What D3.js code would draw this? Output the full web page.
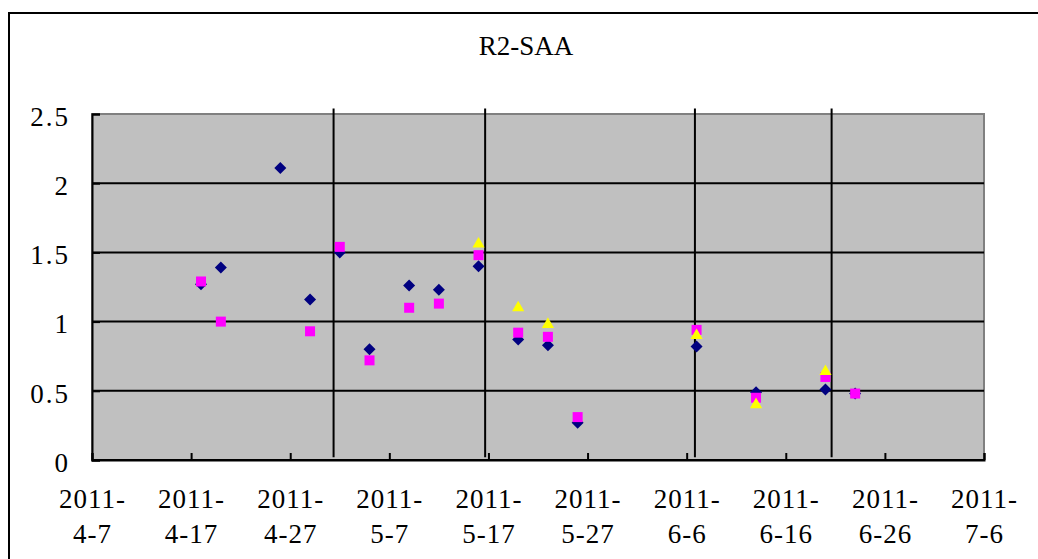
<!DOCTYPE html>
<html>
<head>
<meta charset="utf-8">
<script src="https://cdn.jsdelivr.net/npm/d3@7"></script>
<style>
  body { margin: 0; background: #fff; }
  text { font-family: "Liberation Serif", "DejaVu Serif", "Times New Roman", serif; fill: #000; }
</style>
</head>
<body>
<script>
//chart data
var parseDay = d3.timeParse("%Y-%m-%d");
var parseHour = d3.timeParse("%Y-%m-%d %H");

//series 1 (navy diamonds)
var datesA = ["2011-04-18", "2011-04-20", "2011-04-26", "2011-04-29", "2011-05-02", "2011-05-05", "2011-05-09", "2011-05-12",
              "2011-05-16", "2011-05-20", "2011-05-23", "2011-05-26", "2011-06-07", "2011-06-13", "2011-06-20", "2011-06-23"];
var valuesA = [1.27, 1.39, 2.11, 1.16, 1.50, 0.80, 1.26, 1.23, 1.40, 0.87, 0.83, 0.27, 0.82, 0.49, 0.51, 0.48];

//series 2 (magenta squares)
var datesB = ["2011-04-18", "2011-04-20", "2011-04-29", "2011-05-02", "2011-05-05", "2011-05-09", "2011-05-12", "2011-05-16",
              "2011-05-20", "2011-05-23", "2011-05-26", "2011-06-07", "2011-06-13", "2011-06-20", "2011-06-23"];
var valuesB = [1.29, 1.00, 0.93, 1.54, 0.72, 1.10, 1.13, 1.48, 0.92, 0.89, 0.31, 0.94, 0.45, 0.60, 0.48];

//series 3 (yellow triangles)
var datesC = ["2011-05-16", "2011-05-20", "2011-05-23", "2011-06-07", "2011-06-13", "2011-06-20"];
var valuesC = [1.56, 1.10, 0.98, 0.90, 0.40, 0.64];

//vertical marker lines
var markerDates = ["2011-05-01 09", "2011-05-16 16", "2011-06-06 20", "2011-06-20 15"];
var markerRange = [0.02, 2.54];

//axes
var xTicks = ["2011-04-07", "2011-04-17", "2011-04-27", "2011-05-07", "2011-05-17",
              "2011-05-27", "2011-06-06", "2011-06-16", "2011-06-26", "2011-07-06"];
var yTicks = [0, 0.5, 1, 1.5, 2, 2.5];
var title = "R2-SAA";

var width = 1038,
    height = 559;

var svg = d3.select("body")
    .append("svg")
    .attr("width", width)
    .attr("height", height);

//outer chart frame
svg.append("rect")
    .attr("x", 9)
    .attr("y", 13)
    .attr("width", 1100)
    .attr("height", 700)
    .attr("fill", "#fff")
    .attr("stroke", "#000")
    .attr("stroke-width", 2);

var x = d3.scaleTime()
    .domain([parseDay(xTicks[0]), parseDay(xTicks[xTicks.length - 1])])
    .range([92, 984]);
var y = d3.scaleLinear()
    .domain([0, 2.5])
    .range([460, 114]);

//plot area
svg.append("rect")
    .attr("x", x.range()[0])
    .attr("y", y(2.5))
    .attr("width", x.range()[1] - x.range()[0])
    .attr("height", y(0) - y(2.5))
    .attr("fill", "#c0c0c0")
    .attr("stroke", "#808080")
    .attr("stroke-width", 2);

//horizontal gridlines
svg.selectAll(".grid")
    .data(yTicks.filter(function(d){ return d > 0 && d < 2.5; }))
    .enter()
    .append("line")
    .attr("class", "grid")
    .attr("x1", x.range()[0])
    .attr("x2", x.range()[1])
    .attr("y1", function(d){ return y(d); })
    .attr("y2", function(d){ return y(d); })
    .attr("stroke", "#000")
    .attr("stroke-width", 2);

//vertical marker lines
svg.selectAll(".marker")
    .data(markerDates)
    .enter()
    .append("line")
    .attr("class", "marker")
    .attr("x1", function(d){ return x(parseHour(d)); })
    .attr("x2", function(d){ return x(parseHour(d)); })
    .attr("y1", y(markerRange[1]))
    .attr("y2", y(markerRange[0]))
    .attr("stroke", "#000")
    .attr("stroke-width", 2);

//y axis
var yAxis = svg.append("g")
    .attr("transform", "translate(" + x.range()[0] + ",0)")
    .call(d3.axisLeft(y)
        .tickValues(yTicks)
        .tickSize(-8)
        .tickPadding(22)
        .tickFormat(d3.format("")));
yAxis.attr("font-family", null).attr("font-size", null);
yAxis.select(".domain").attr("stroke", "#000").attr("stroke-width", 2);
yAxis.selectAll(".tick line").attr("stroke", "#000").attr("stroke-width", 2);
yAxis.selectAll("text")
    .style("font-size", "27px")
    .style("letter-spacing", "2px")
    .attr("dy", "0.42em");

//x axis
var xAxis = svg.append("g")
    .attr("transform", "translate(0," + y(0) + ")")
    .call(d3.axisBottom(x)
        .tickValues(xTicks.map(parseDay))
        .tickSize(-7)
        .tickFormat(""));
xAxis.attr("font-family", null).attr("font-size", null);
xAxis.select(".domain").attr("stroke", "#000").attr("stroke-width", 2);
xAxis.selectAll(".tick line").attr("stroke", "#000").attr("stroke-width", 2);
xAxis.selectAll(".tick text").remove();
var fmtYear = d3.timeFormat("%Y-"),
    fmtDay = d3.timeFormat("%-m-%-d");
var xLabels = xAxis.selectAll(".tick")
    .append("text")
    .attr("text-anchor", "middle")
    .style("font-size", "27px")
    .style("letter-spacing", "1px");
xLabels.append("tspan")
    .attr("x", 0)
    .attr("y", 48)
    .text(function(d){ return fmtYear(d); });
xLabels.append("tspan")
    .attr("x", 0)
    .attr("y", 83)
    .text(function(d){ return fmtDay(d); });

//bottom border in black on top of the plot frame
svg.append("line")
    .attr("x1", x.range()[0]).attr("x2", x.range()[1])
    .attr("y1", y(0)).attr("y2", y(0))
    .attr("stroke", "#000").attr("stroke-width", 2);

//series markers
function drawSeries(dates, values, symbol, size, color, rotate){
    var sym = d3.symbol().type(symbol).size(size);
    svg.append("g")
        .selectAll("path")
        .data(dates.map(function(d, i){ return {date: parseDay(d), value: values[i]}; }))
        .enter()
        .append("path")
        .attr("d", sym)
        .attr("transform", function(d){
            return "translate(" + x(d.date) + "," + y(d.value) + ")" + (rotate ? " rotate(45)" : "");
        })
        .attr("fill", color);
}
drawSeries(datesA, valuesA, d3.symbolSquare, 72, "#000080", true);
drawSeries(datesB, valuesB, d3.symbolSquare, 100, "#ff00ff", false);
drawSeries(datesC, valuesC, d3.symbolTriangle, 64, "#ffff00", false);

//title
svg.append("text")
    .attr("x", 526)
    .attr("y", 55)
    .attr("text-anchor", "middle")
    .style("font-size", "27px")
    .text(title);
</script>
</body>
</html>
